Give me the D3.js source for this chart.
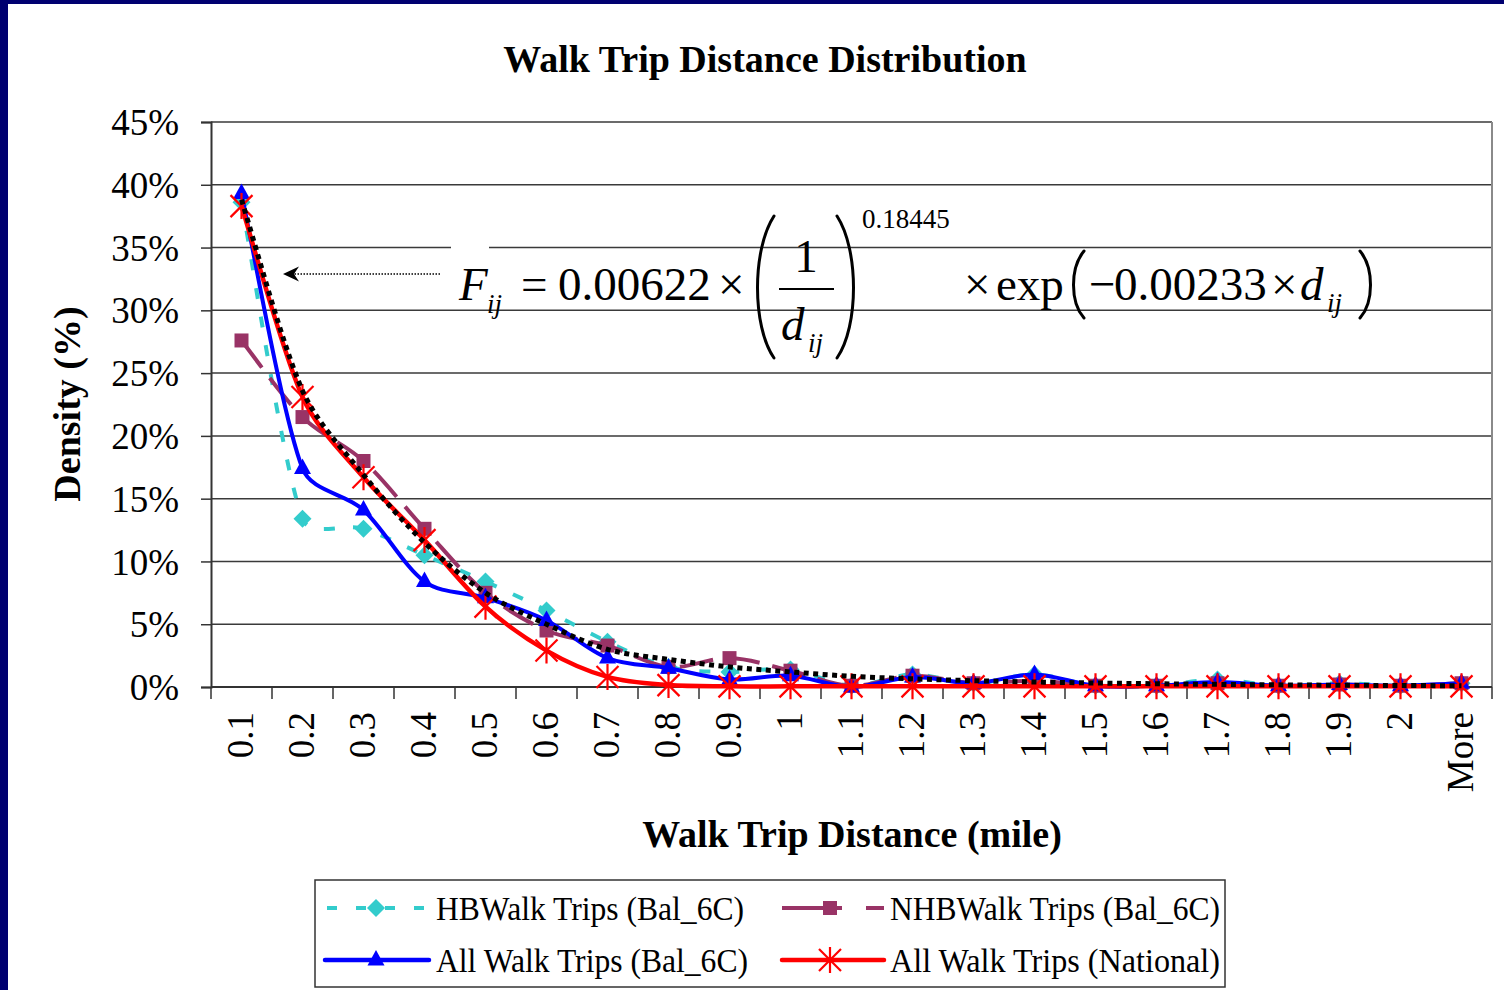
<!DOCTYPE html>
<html><head><meta charset="utf-8">
<script src="https://cdn.jsdelivr.net/npm/d3@7"></script>
<style>body{margin:0;background:#fff} svg{display:block}</style>
</head><body>
<svg id="c" width="1504" height="990"></svg>
<script>
// ---------- data (percent) ----------
const categories = ["0.1","0.2","0.3","0.4","0.5","0.6","0.7","0.8","0.9","1","1.1","1.2","1.3","1.4","1.5","1.6","1.7","1.8","1.9","2","More"];
const hbWalk       = [38.6, 13.4, 12.6, 10.5, 8.4, 6.1, 3.6, 1.6, 1.2, 1.4, 0.1, 1.0, 0.3, 1.0, 0.1, 0.1, 0.6, 0.1, 0.3, 0.1, 0.3];
const nhbWalk      = [27.6, 21.5, 18.0, 12.6, 7.5, 4.5, 3.3, 1.6, 2.3, 1.3, 0.1, 0.9, 0.3, 0.5, 0.1, 0.1, 0.3, 0.1, 0.2, 0.1, 0.3];
const allWalkBal   = [39.3, 17.4, 14.1, 8.4, 7.1, 5.3, 2.3, 1.5, 0.6, 0.9, 0.0, 0.8, 0.3, 1.0, 0.1, 0.1, 0.4, 0.1, 0.2, 0.1, 0.3];
const allWalkNat   = [38.3, 23.1, 16.7, 11.7, 6.4, 2.9, 0.8, 0.15, 0.05, 0.05, 0.05, 0.05, 0.05, 0.05, 0.05, 0.05, 0.05, 0.05, 0.05, 0.05, 0.05];
const fittedCurve  = [38.8, 23.6, 16.9, 11.5, 7.5, 5.0, 3.0, 2.2, 1.6, 1.2, 0.85, 0.65, 0.5, 0.4, 0.32, 0.26, 0.21, 0.17, 0.14, 0.12, 0.1];
const yTicks = [0, 5, 10, 15, 20, 25, 30, 35, 40, 45];
const legendLabels = ["HBWalk Trips (Bal_6C)", "NHBWalk Trips (Bal_6C)", "All Walk Trips (Bal_6C)", "All Walk Trips (National)"];

const svg = d3.select("#c");
const FONT = "'Liberation Serif','Times New Roman',serif";
svg.append("rect").attr("width",1504).attr("height",990).attr("fill","#fff");
// navy frame
svg.append("rect").attr("x",0).attr("y",0).attr("width",1504).attr("height",4).attr("fill","#000070");
svg.append("rect").attr("x",0).attr("y",0).attr("width",8).attr("height",990).attr("fill","#000070");

const L = 211, R = 1492, T = 122, B = 687;
const x = d3.scaleBand().domain(categories).range([L, R]).padding(0);
const cx = d => x(d) + x.bandwidth()/2;
const y = d3.scaleLinear().domain([0, 45]).range([B, T]);

// gridlines
svg.append("g").selectAll("line").data(yTicks.filter(t=>t>0)).join("line")
  .attr("x1", L).attr("x2", R).attr("y1", d=>y(d)).attr("y2", d=>y(d))
  .attr("stroke", "#3a3a3a").attr("stroke-width", 1.5);
// right border
svg.append("line").attr("x1",R).attr("x2",R).attr("y1",T).attr("y2",B).attr("stroke","#8a8a8a").attr("stroke-width",2);

// y axis
const yAxis = d3.axisLeft(y).tickValues(yTicks).tickFormat(d => d + "%").tickSize(10).tickPadding(22);
const gy = svg.append("g").attr("transform", `translate(${L},0)`).call(yAxis);
gy.select(".domain").attr("stroke","#333").attr("stroke-width",2);
gy.selectAll(".tick line").attr("stroke","#333").attr("stroke-width",1.5);
gy.selectAll("text").attr("font-family",FONT).attr("font-size",37).attr("fill","#000").attr("dy","0.34em");

// x axis baseline and ticks at band boundaries
svg.append("line").attr("x1",L).attr("x2",R).attr("y1",B).attr("y2",B).attr("stroke","#333").attr("stroke-width",2);
const bounds = categories.map(c => x(c)).concat([R]);
svg.append("g").selectAll("line").data(bounds).join("line")
  .attr("x1", d=>d).attr("x2", d=>d).attr("y1", B).attr("y2", B+12)
  .attr("stroke","#333").attr("stroke-width",1.5);
svg.append("g").selectAll("text").data(categories).join("text")
  .attr("transform", d => `translate(${cx(d)},712) rotate(-90)`)
  .attr("text-anchor","end").attr("dy","0.32em")
  .attr("font-family",FONT).attr("font-size",37).attr("fill","#000")
  .text(d=>d);

// titles
svg.append("text").attr("x",765).attr("y",72).attr("text-anchor","middle")
  .attr("font-family",FONT).attr("font-weight","bold").attr("font-size",38).text("Walk Trip Distance Distribution");
svg.append("text").attr("x",852).attr("y",847).attr("text-anchor","middle")
  .attr("font-family",FONT).attr("font-weight","bold").attr("font-size",38).text("Walk Trip Distance (mile)");
svg.append("text").attr("transform","translate(80,404) rotate(-90)").attr("text-anchor","middle")
  .attr("font-family",FONT).attr("font-weight","bold").attr("font-size",38).text("Density (%)");

// ---------- series ----------
// Excel-like smoothing: Catmull-Rom tangents, control offsets clamped to a fraction of the chord
function smoothPath(vals) {
  const p = vals.map((v,i) => [cx(categories[i]), y(v)]);
  const n = p.length;
  const tan = p.map((pt,i) => {
    const a = p[Math.max(0,i-1)], b = p[Math.min(n-1,i+1)];
    return [(b[0]-a[0])/6, (b[1]-a[1])/6];
  });
  const clamp = (t, chord) => {
    const len = Math.hypot(t[0], t[1]), lim = chord * 0.34;
    return len > lim ? [t[0]*lim/len, t[1]*lim/len] : t;
  };
  let d = `M${p[0][0]},${p[0][1]}`;
  for (let i = 0; i < n-1; i++) {
    const chord = Math.hypot(p[i+1][0]-p[i][0], p[i+1][1]-p[i][1]);
    const t1 = clamp(tan[i], chord), t2 = clamp(tan[i+1], chord);
    d += `C${p[i][0]+t1[0]},${p[i][1]+t1[1]} ${p[i+1][0]-t2[0]},${p[i+1][1]-t2[1]} ${p[i+1][0]},${p[i+1][1]}`;
  }
  return d;
}

const diamond = "M0,-9L9,0L0,9L-9,0Z";
const triangle = "M0,-10L8.5,5.5L-8.5,5.5Z";
const square = "M-7,-7H7V7H-7Z";
const star = "M-11,-11L11,11M-11,11L11,-11M0,-13V13";

function series(vals, color, width, dash, marker, markerStroke) {
  const g = svg.append("g");
  g.append("path").attr("d", smoothPath(vals)).attr("fill","none").attr("stroke",color)
    .attr("stroke-width",width).attr("stroke-dasharray",dash).attr("stroke-linejoin","round");
  g.selectAll("path.m").data(vals).join("path").attr("class","m")
    .attr("transform",(d,i)=>`translate(${cx(categories[i])},${y(d)})`)
    .attr("d", marker)
    .attr("fill", markerStroke ? "none" : color)
    .attr("stroke", markerStroke ? color : "none")
    .attr("stroke-width", markerStroke ? 2.2 : 0);
}
series(hbWalk, "#33CCCC", 4, "11,18", diamond, false);
series(nhbWalk, "#993366", 4, "34,13", square, false);
series(allWalkBal, "#0000FF", 4, null, triangle, false);
series(allWalkNat, "#FF0000", 4.5, null, star, true);
svg.append("path").attr("d", smoothPath(fittedCurve)).attr("fill","none").attr("stroke","#000")
  .attr("stroke-width",5).attr("stroke-dasharray","5,4.5");

// ---------- formula annotation ----------
svg.append("rect").attr("x",451).attr("y",244).attr("width",38).attr("height",8).attr("fill","#fff");
svg.append("line").attr("x1",440).attr("x2",292).attr("y1",274).attr("y2",274)
  .attr("stroke","#000").attr("stroke-width",1.3).attr("stroke-dasharray","1.5,1.5");
svg.append("path").attr("d","M283,274L299,266.5L294,274L299,281.5Z").attr("fill","#000");

const fm = svg.append("g").attr("font-family",FONT).attr("fill","#000");
function ft(xp, yp, s, size, italic, anchor) {
  return fm.append("text").attr("x",xp).attr("y",yp).attr("font-size",size)
    .attr("font-style", italic ? "italic" : "normal").attr("text-anchor", anchor || "start").text(s);
}
function paren(d, w) {
  fm.append("path").attr("d", d).attr("fill","none").attr("stroke","#000").attr("stroke-width", w).attr("stroke-linecap","round");
}
ft(459, 300, "F", 47, true);
ft(487, 313, "ij", 27, true);
ft(521, 300, "=", 47);
ft(558, 300, "0.00622", 47);
ft(718, 300, "×", 47);
paren("M774,216 C752,250 752,326 774,358", 3);
paren("M837,216 C859,250 859,326 837,358", 3);
ft(806, 272, "1", 47, false, "middle");
fm.append("line").attr("x1",779).attr("x2",834).attr("y1",289).attr("y2",289).attr("stroke","#000").attr("stroke-width",2);
ft(781, 340, "d", 47, true);
ft(808, 352, "ij", 27, true);
ft(862, 228, "0.18445", 27);
ft(964, 300, "×", 47);
ft(996, 300, "exp", 47);
paren("M1084,251 C1070,268 1070,302 1084,318", 3);
ft(1089, 300, "−", 47);
ft(1114, 300, "0.00233", 47);
ft(1271, 300, "×", 47);
ft(1300, 300, "d", 47, true);
ft(1327, 312, "ij", 27, true);
paren("M1360,251 C1374,268 1374,302 1360,318", 3);

// ---------- legend ----------
const lg = svg.append("g");
lg.append("rect").attr("x",315).attr("y",880).attr("width",910).attr("height",107)
  .attr("fill","#fff").attr("stroke","#333").attr("stroke-width",1.5);
const legendItems = [
  {x0:325, x1:429, mx:376, yy:908, color:"#33CCCC", w:4, dash:"10,19", off:-2, marker:diamond, stroke:false, tx:436, tw:308},
  {x0:782, x1:884, mx:830, yy:908, color:"#993366", w:4, dash:"60,24", off:0, marker:square, stroke:false, tx:890, tw:330},
  {x0:325, x1:429, mx:376, yy:960, color:"#0000FF", w:4.5, dash:null, off:0, marker:triangle, stroke:false, tx:436, tw:312},
  {x0:782, x1:884, mx:830, yy:960, color:"#FF0000", w:4.5, dash:null, off:0, marker:star, stroke:true, tx:890, tw:330}
];
legendItems.forEach((it, i) => {
  lg.append("line").attr("x1",it.x0).attr("x2",it.x1).attr("y1",it.yy).attr("y2",it.yy)
    .attr("stroke",it.color).attr("stroke-width",it.w).attr("stroke-dasharray",it.dash)
    .attr("stroke-dashoffset",it.off).attr("stroke-linecap", it.dash ? "butt" : "round");
  lg.append("path").attr("transform",`translate(${it.mx},${it.yy})`).attr("d",it.marker)
    .attr("fill", it.stroke ? "none" : it.color).attr("stroke", it.stroke ? it.color : "none")
    .attr("stroke-width", it.stroke ? 2.2 : 0);
  lg.append("text").attr("x",it.tx).attr("y",it.yy+12).attr("font-family",FONT).attr("font-size",34)
    .attr("textLength",it.tw).attr("lengthAdjust","spacingAndGlyphs").text(legendLabels[i]);
});
</script>
</body></html>
